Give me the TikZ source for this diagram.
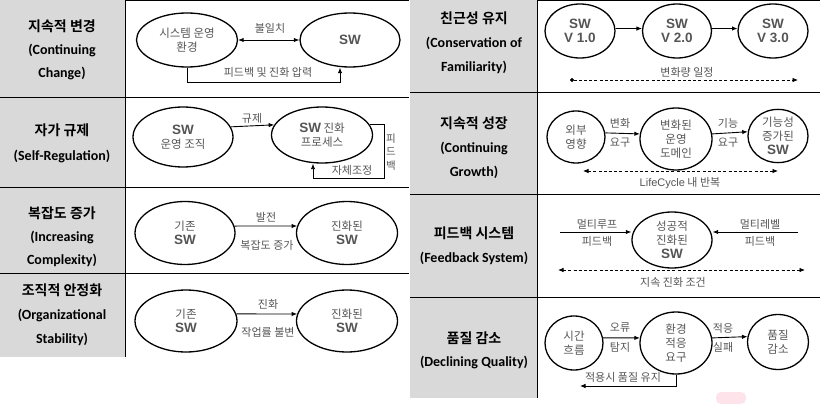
\documentclass[tikz,border=0pt]{standalone}
\usepackage{fontspec}
\usetikzlibrary{shapes.geometric,arrows.meta,calc}
\setmainfont{Noto Sans CJK KR}
\newfontfamily\krfont{Noto Sans CJK KR}[BoldFont={Noto Sans CJK KR Bold}]
\newfontfamily\enfont{Carlito}
\newfontfamily\arfont{Liberation Sans}
\definecolor{cellgray}{HTML}{D9D9D9}
\definecolor{labgray}{HTML}{555555}
\definecolor{stampink}{HTML}{FFE3EA}
\newcommand\lat[1]{{\arfont\bfseries\fontsize{13.5}{14}\selectfont #1}}
\newcommand\latr[1]{{\arfont #1}}

\tikzset{
  x=1pt, y=-1pt,
  cellko/.style={font=\krfont\bfseries\fontsize{14}{16}\selectfont, inner sep=0pt},
  cellen/.style={font=\enfont\bfseries\fontsize{14}{16}\selectfont, inner sep=0pt},
  bub/.style={ellipse, draw=black, line width=1.3pt, inner sep=0pt, align=center,
              text=labgray, font=\krfont\fontsize{11.5}{14}\selectfont},
  lbl/.style={text=labgray, font=\krfont\fontsize{11}{12}\selectfont, inner sep=0pt, align=center},
  arr/.style={-{Latex[length=5.5pt,width=4.5pt]}, line width=0.9pt},
  darr/.style={{Latex[length=5.5pt,width=4.5pt]}-{Latex[length=5.5pt,width=4.5pt]}, line width=0.9pt},
  dline/.style={dash pattern=on 3pt off 2.2pt, line width=0.8pt},
  rule/.style={line width=0.9pt}
}

\begin{document}
\begin{tikzpicture}
\useasboundingbox (0,0) rectangle (822,404);

% ---------- table grids ----------
\fill[cellgray] (0,0) rectangle (125,357);
\fill[cellgray] (410,0) rectangle (537,398);
\draw[rule] (125,0.5) -- (409,0.5);
\draw[rule] (0,97) -- (409,97);
\draw[rule] (0,187) -- (409,187);
\draw[rule] (0,273) -- (409,273);
\draw[rule] (125,0) -- (125,357);
\draw[rule] (537,0.5) -- (820,0.5);
\draw[rule] (410,92) -- (820,92);
\draw[rule] (410,194) -- (820,194);
\draw[rule] (410,297) -- (820,297);
\draw[rule] (537,0) -- (537,398);
\fill[stampink, rounded corners=5pt] (716,392) rectangle (746,404);

% ---------- left column titles ----------
\node[cellko] (t1a) at (62,26) {지속적 변경};
\node[cellen] (t1b) at (62,50) {(Continuing};
\node[cellen] (t1c) at (62,73) {Change)};
\node[cellko] (t2a) at (62,130) {자가 규제};
\node[cellen] (t2b) at (62,156) {(Self-Regulation)};
\node[cellko] (t3a) at (62,213) {복잡도 증가};
\node[cellen] (t3b) at (62,237) {(Increasing};
\node[cellen] (t3c) at (62,260) {Complexity)};
\node[cellko] (t4a) at (62,290) {조직적 안정화};
\node[cellen] (t4b) at (62,315) {(Organizational};
\node[cellen] (t4c) at (62,339) {Stability)};

% ---------- right column titles ----------
\node[cellko] (r1a) at (474,18) {친근성 유지};
\node[cellen] (r1b) at (474,43) {(Conservation of};
\node[cellen] (r1c) at (474,67) {Familiarity)};
\node[cellko] (r2a) at (474,123) {지속적 성장};
\node[cellen] (r2b) at (474,148) {(Continuing};
\node[cellen] (r2c) at (474,172) {Growth)};
\node[cellko] (r3a) at (474,233) {피드백 시스템};
\node[cellen] (r3b) at (474,258) {(Feedback System)};
\node[cellko] (r4a) at (474,338) {품질 감소};
\node[cellen] (r4b) at (474,362) {(Declining Quality)};

% ---------- continuing change ----------
\node[bub, minimum width=101pt, minimum height=54pt] (env) at (187,40) {시스템 운영\\환경};
\node[bub, minimum width=100pt, minimum height=54pt] (sw1) at (350,40) {\lat{SW}};
\draw[darr] (env) -- (sw1);
\node[lbl] (mis) at (270,28) {불일치};
\coordinate (fb1) at (340,82);
\draw[arr] (env.south) |- (fb1) -- (sw1.south -| fb1);
\node[lbl] (fbl) at (268,72) {피드백 및 진화 압력};

% ---------- self-regulation ----------
\node[bub, minimum width=100pt, minimum height=60pt] (org) at (183,137) {\lat{SW}\\운영 조직};
\node[bub, minimum width=101pt, minimum height=56pt] (proc) at (322,135) {\lat{SW} 진화\\프로세스};
\draw[arr] (org.12) -- (proc.168);
\node[lbl] (reg) at (252,118) {규제};
\coordinate (lp1) at (384,178);
\coordinate (lp2) at (313,178);
\draw[arr] (proc.12) -| (lp1) -- (lp2) -- (proc.south -| lp2);
\node[lbl] (self) at (352,170) {자체조정};
\node[lbl, font=\krfont\fontsize{10.5}{13.5}\selectfont] (fbv) at (391,152) {피\\드\\백};

% ---------- increasing complexity ----------
\node[bub, minimum width=100pt, minimum height=63pt] (old3) at (185,233) {기존\\\lat{SW}};
\node[bub, minimum width=101pt, minimum height=63pt] (new3) at (347,233) {진화된\\\lat{SW}};
\draw[arr] (old3.8) -- (new3.172);
\node[lbl] (dev) at (266,217) {발전};
\node[lbl] (cpx) at (267,245) {복잡도 증가};

% ---------- organizational stability ----------
\node[bub, minimum width=102pt, minimum height=62pt] (old4) at (186,321) {기존\\\lat{SW}};
\node[bub, minimum width=101pt, minimum height=62pt] (new4) at (347,321) {진화된\\\lat{SW}};
\draw[arr] (old4.8) -- (new4.172);
\node[lbl] (evo) at (268,304) {진화};
\node[lbl] (rate) at (268,332) {작업률 불변};

% ---------- conservation of familiarity ----------
\node[bub, minimum width=70pt, minimum height=54pt] (v1) at (580,31) {\lat{SW}\\\lat{V 1.0}};
\node[bub, minimum width=69pt, minimum height=54pt] (v2) at (677,31) {\lat{SW}\\\lat{V 2.0}};
\node[bub, minimum width=70pt, minimum height=54pt] (v3) at (773,31) {\lat{SW}\\\lat{V 3.0}};
\draw[arr] (v1.4) -- (v2.176);
\draw[arr] (v2.4) -- (v3.176);
\node[lbl] (amt) at (687,72) {변화량 일정};
\coordinate (d1s) at (570,80);
\coordinate (d1e) at (798,80);
\draw[dline, {Circle[length=4pt]}-{Latex[length=5.5pt,width=4.5pt]}] (d1s) -- (d1e);

% ---------- continuing growth ----------
\node[bub, minimum width=58pt, minimum height=52pt] (ext) at (576,137) {외부\\영향};
\node[bub, minimum width=72pt, minimum height=62pt] (dom) at (676,139) {변화된\\운영\\도메인};
\node[bub, minimum width=60pt, minimum height=52pt] (grow) at (778,136) {기능성\\증가된\\\lat{SW}};
\draw[arr] (ext.8) -- (dom.172);
\draw[arr] (dom.8) -- (grow.172);
\node[lbl] (g1) at (620,123) {변화};
\node[lbl] (g2) at (620,143) {요구};
\node[lbl] (g3) at (728,123) {기능};
\node[lbl] (g4) at (728,143) {요구};
\coordinate (d2s) at (583,171);
\coordinate (d2e) at (778,171);
\draw[dline, {Latex[length=5.5pt,width=4.5pt]}-{Latex[length=5.5pt,width=4.5pt]}] (d2s) -- (d2e);
\node[lbl] (lc) at (680,183) {\latr{LifeCycle} 내 반복};

% ---------- feedback system ----------
\node[bub, minimum width=80pt, minimum height=56pt] (succ) at (672,240) {성공적\\진화된\\\lat{SW}};
\coordinate (ml) at (560,232);
\coordinate (mr) at (798,232);
\draw[arr] (ml) -- (ml -| succ.west);
\draw[arr] (mr) -- (mr -| succ.east);
\node[lbl] (f1) at (597,224) {멀티루프};
\node[lbl] (f2) at (597,241) {피드백};
\node[lbl] (f3) at (760,224) {멀티레벨};
\node[lbl] (f4) at (760,241) {피드백};
\coordinate (d3s) at (558,270);
\coordinate (d3e) at (805,270);
\draw[dline, {Latex[length=5.5pt,width=4.5pt]}-{Latex[length=5.5pt,width=4.5pt]}] (d3s) -- (d3e);
\node[lbl] (cond) at (673,282) {지속 진화 조건};

% ---------- declining quality ----------
\node[bub, minimum width=58pt, minimum height=54pt] (time) at (574,343) {시간\\흐름};
\node[bub, minimum width=72pt, minimum height=62pt] (adapt) at (676,343) {환경\\적응\\요구};
\node[bub, minimum width=61pt, minimum height=55pt] (qual) at (778,342) {품질\\감소};
\draw[arr] (time.10) -- (adapt.172);
\draw[arr] (adapt.8) -- (qual.170);
\node[lbl] (q1) at (620,328) {오류};
\node[lbl] (q2) at (620,347) {탐지};
\node[lbl] (q3) at (723,328) {적응};
\node[lbl] (q4) at (723,347) {실패};
\coordinate (qe) at (580,386);
\draw[arr] (adapt.south) |- (qe);
\node[lbl] (keep) at (623,377) {적용시 품질 유지};
\end{tikzpicture}
\end{document}
